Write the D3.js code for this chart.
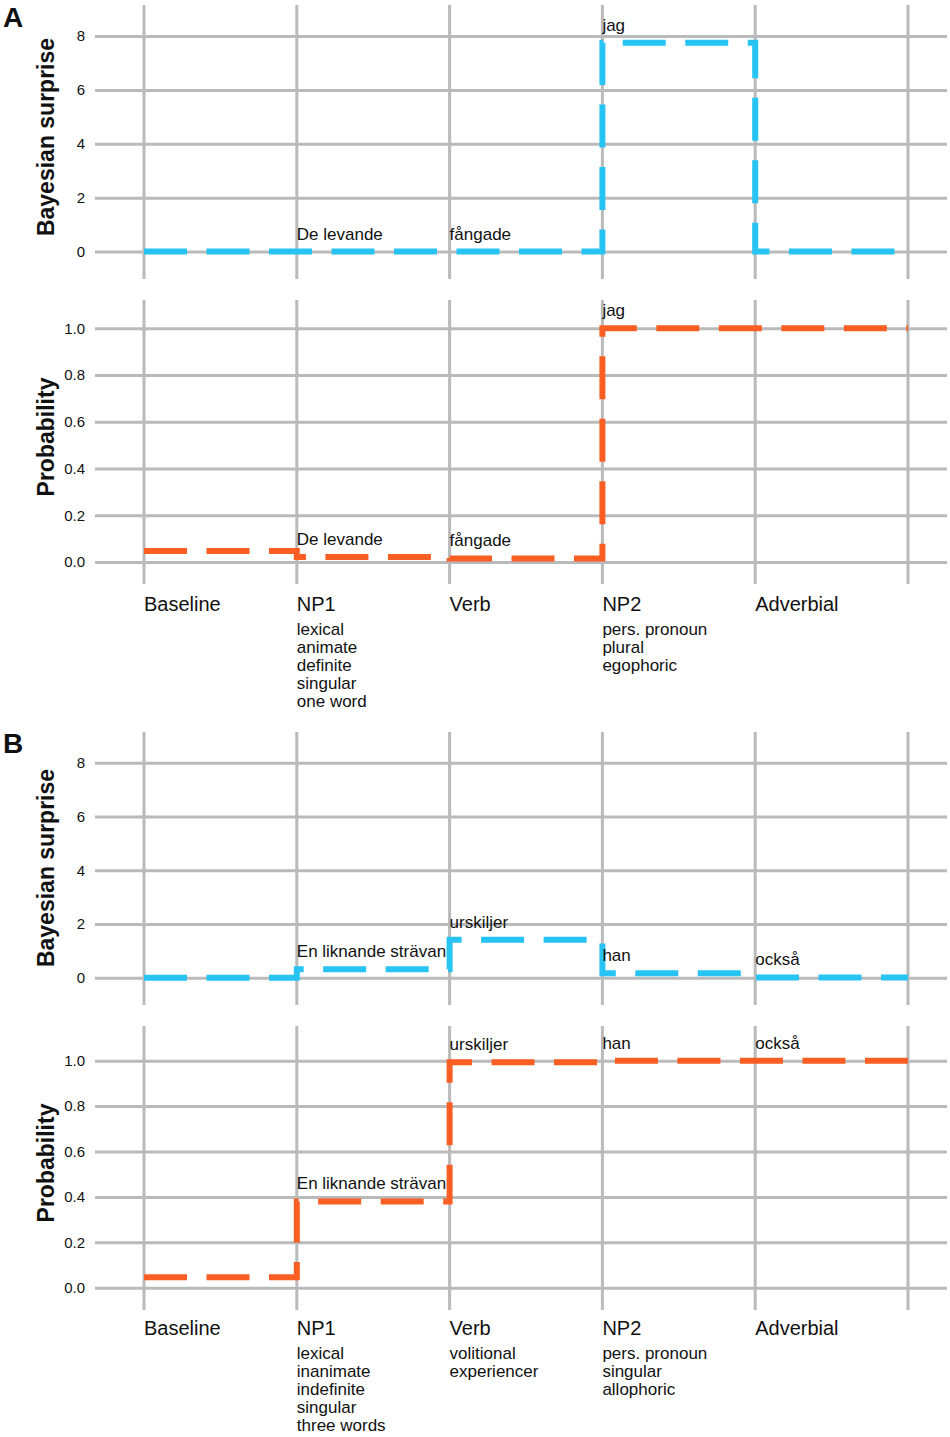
<!DOCTYPE html>
<html>
<head>
<meta charset="utf-8">
<title>Bayesian surprise and probability</title>
<script src="https://cdn.jsdelivr.net/npm/d3@7/dist/d3.min.js"></script>
<style>
  body { margin: 0; background: #fff; }
  svg text { font-family: "Liberation Sans", Arial, sans-serif; fill: #111; }
</style>
</head>
<body>
<svg id="chart" width="950" height="1437"></svg>
<script>
// positions along the sentence; "end" is the closing gridline with no label
const categories = ["Baseline", "NP1", "Verb", "NP2", "Adverbial"];
const surpriseTicks = [0, 2, 4, 6, 8];
const probTicks = [0, 0.2, 0.4, 0.6, 0.8, 1.0];

// sentence A
const surpriseA = [0, 0, 0, 7.75, 0];
const probA = [0.047, 0.021, 0.015, 1.0, 1.0];
const wordsA = ["", "De levande", "fångade", "jag", ""];
const featuresA = [[], ["lexical", "animate", "definite", "singular", "one word"], [], ["pers. pronoun", "plural", "egophoric"], []];

// sentence B
const surpriseB = [0, 0.31, 1.41, 0.17, 0.01];
const probB = [0.046, 0.38, 0.993, 1.0, 1.0];
const wordsB = ["", "En liknande strävan", "urskiljer", "han", "också"];
const featuresB = [[], ["lexical", "inanimate", "indefinite", "singular", "three words"], ["volitional", "experiencer"], ["pers. pronoun", "singular", "allophoric"], []];

const BLUE = "#27c3f3", ORANGE = "#fb5e22", GRID = "#bababa";

const svg = d3.select("#chart");
const x = d3.scalePoint().domain([...categories, "end"]).range([144, 908]);

const stepLine = d3.line()
  .x(d => x(d.cat))
  .y(d => d.y)
  .curve(d3.curveStepAfter);

function panel(opt) {
  const g = svg.append("g");
  const y = d3.scaleLinear().domain(opt.domain).range(opt.range);

  // horizontal grid + tick labels
  const ax = g.append("g")
    .attr("transform", "translate(95,0)")
    .call(d3.axisLeft(y).tickValues(opt.ticks).tickFormat(opt.fmt)
      .tickSize(-852).tickPadding(10));
  ax.select(".domain").remove();
  ax.selectAll(".tick line").attr("stroke", GRID).attr("stroke-width", 3);
  ax.selectAll(".tick text").attr("font-size", 15).attr("fill", "#111")
    .style("font-family", "'Liberation Sans', Arial, sans-serif");

  // vertical grid
  g.selectAll("line.v").data(x.domain()).join("line")
    .attr("x1", d => x(d)).attr("x2", d => x(d))
    .attr("y1", opt.top).attr("y2", opt.bottom)
    .attr("stroke", GRID).attr("stroke-width", 3);

  // y title
  g.append("text")
    .attr("transform", `translate(54,${opt.titleY}) rotate(-90)`)
    .attr("text-anchor", "middle")
    .attr("font-size", 23).attr("font-weight", "bold")
    .text(opt.title);

  // step line
  const pts = opt.values.map((v, i) => ({cat: categories[i], y: y(v)}));
  pts.push({cat: "end", y: y(opt.values[opt.values.length - 1])});
  g.append("path")
    .attr("d", stepLine(pts))
    .attr("fill", "none")
    .attr("stroke", opt.color)
    .attr("stroke-width", 6)
    .attr("stroke-dasharray", "43,19.5");

  // word labels
  g.selectAll("text.word").data(opt.words.map((w, i) => ({w, i}))
      .filter(d => d.w !== ""))
    .join("text")
    .attr("x", d => x(categories[d.i]))
    .attr("y", d => y(opt.values[d.i]) - 12)
    .attr("font-size", 17)
    .text(d => d.w);
}

function xLabels(top, features) {
  const g = svg.append("g");
  categories.forEach((c, i) => {
    g.append("text")
      .attr("x", x(c)).attr("y", top)
      .attr("font-size", 20)
      .text(c);
    features[i].forEach((f, j) => {
      g.append("text")
        .attr("x", x(c)).attr("y", top + 24 + j * 18)
        .attr("font-size", 17)
        .text(f);
    });
  });
}

function letter(t, yPos) {
  svg.append("text").attr("x", 3).attr("y", yPos)
    .attr("font-size", 28).attr("font-weight", "bold").text(t);
}

// A
letter("A", 27);
panel({title: "Bayesian surprise", values: surpriseA, words: wordsA, color: BLUE,
  domain: [0, 8], range: [251.5, 36], ticks: surpriseTicks, fmt: d3.format("d"),
  top: 5, bottom: 279, titleY: 137});
panel({title: "Probability", values: probA, words: wordsA, color: ORANGE,
  domain: [0, 1], range: [562, 328.3], ticks: probTicks, fmt: d3.format(".1f"),
  top: 300, bottom: 584, titleY: 437});
xLabels(611, featuresA);

// B
letter("B", 753);
panel({title: "Bayesian surprise", values: surpriseB, words: wordsB, color: BLUE,
  domain: [0, 8], range: [977.7, 762.7], ticks: surpriseTicks, fmt: d3.format("d"),
  top: 732, bottom: 1005, titleY: 868});
panel({title: "Probability", values: probB, words: wordsB, color: ORANGE,
  domain: [0, 1], range: [1287.7, 1060.7], ticks: probTicks, fmt: d3.format(".1f"),
  top: 1026, bottom: 1310, titleY: 1163});
xLabels(1335, featuresB);
</script>
</body>
</html>
